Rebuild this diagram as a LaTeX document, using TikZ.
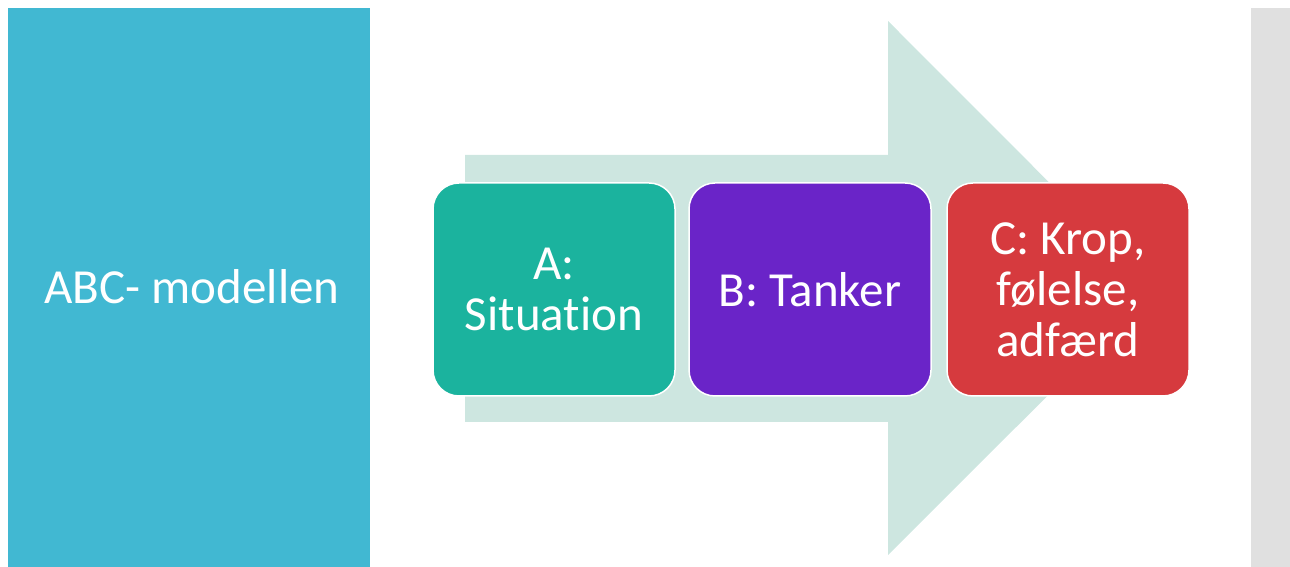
\documentclass[tikz,border=0pt]{standalone}
\usepackage{fontspec}
\setmainfont{Carlito}[Ligatures={NoCommon,NoRare}]
\definecolor{sideblue}{HTML}{41B8D2}
\definecolor{arrowgreen}{HTML}{CDE6E0}
\definecolor{stepA}{HTML}{1BB39E}
\definecolor{stepB}{HTML}{6A24C8}
\definecolor{stepC}{HTML}{D63A3E}
\definecolor{sidegray}{HTML}{E0E0E0}
\begin{document}
\begin{tikzpicture}[x=1pt,y=1pt,
   stepbox/.style={rounded corners=26pt,draw=white,line width=1.5pt,text=white,
     minimum width=242pt,minimum height=213pt,align=center,inner sep=4pt,
     font=\fontsize{49}{51}\selectfont},
   panel/.style={inner sep=0pt,outer sep=0pt}
]
  \useasboundingbox (0,0) rectangle (1290,567);
  % side panels
  \fill[sideblue] (8,0) rectangle (370,559);
  \fill[sidegray] (1251,0) rectangle (1290,559);
  \node[text=white,font=\fontsize{49}{51}\selectfont] (title) at (192,280) {ABC- modellen};
  % big arrow
  \fill[arrowgreen] (465,412) -- (888,412) -- (888,546) -- (1155,278.5)
     -- (888,12) -- (888,145) -- (465,145) -- cycle;
  % steps
  \node[stepbox,fill=stepA] (A) at (554,277.5) {A:\\Situation};
  \node[stepbox,fill=stepB] (B) at (810,277.5) {B: Tanker};
  \node[stepbox,fill=stepC] (C) at (1068,277.5) {C: Krop,\\følelse,\\adfærd};
\end{tikzpicture}
\end{document}
